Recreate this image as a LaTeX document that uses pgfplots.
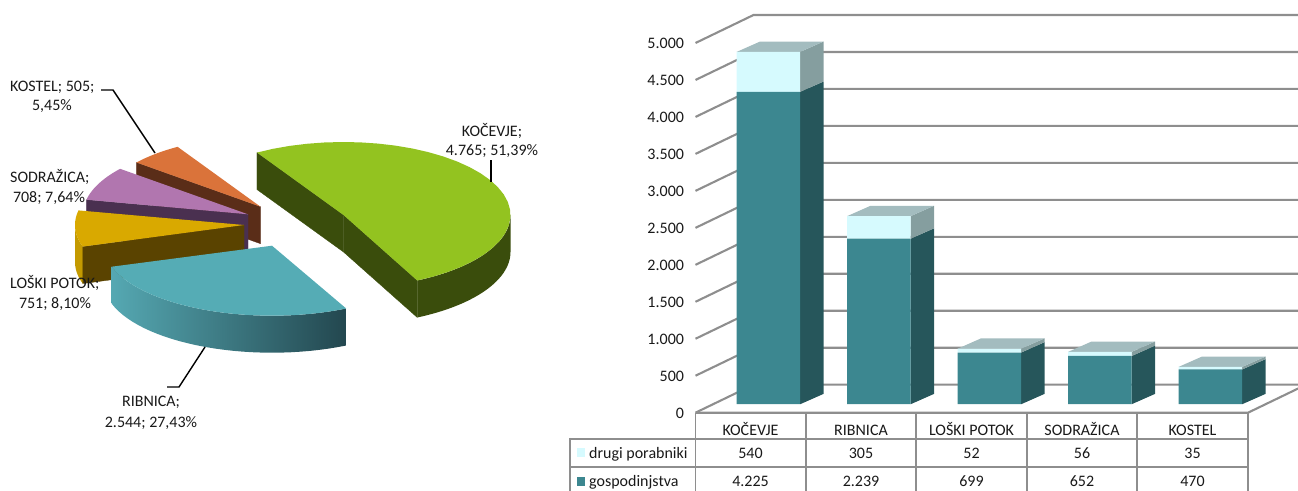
\documentclass[border=0pt]{standalone}
\usepackage{fontspec}
\setmainfont{Carlito}
\usepackage{pgfplots}
\usepackage{pgfplotstable}
\pgfplotsset{compat=1.18}
\definecolor{kotop}{HTML}{93C320}\definecolor{koside}{HTML}{3A4D0C}
\definecolor{ritop}{HTML}{55ACB5}\definecolor{rilft}{HTML}{55A8B2}\definecolor{rimid}{HTML}{3E7880}\definecolor{rirgt}{HTML}{23474F}
\definecolor{lotop}{HTML}{D9A900}\definecolor{loside}{HTML}{5A4300}\definecolor{lowall}{HTML}{C49A00}
\definecolor{sotop}{HTML}{B176AF}\definecolor{soside}{HTML}{4A3050}
\definecolor{kstop}{HTML}{DA733A}\definecolor{ksside}{HTML}{5A2D18}
\definecolor{gosp}{HTML}{3C8790}\definecolor{gospside}{HTML}{26565B}
\definecolor{drug}{HTML}{D6FAFE}\definecolor{drugside}{HTML}{859E9F}
\definecolor{bartop}{HTML}{A3BCBF}\definecolor{gridc}{HTML}{8E8E8E}
\pgfplotstableread{
x    gospodinjstva drugi
0.5  4225 540
1.5  2239 305
2.5  699  52
3.5  652  56
4.5  470  35
}\bardata
\newcommand\polyplot[2]{\edef\tmp{\noexpand\addplot[#1] coordinates {#2} --cycle;}\tmp}
\newcommand\arcadd[7]{\foreach \k in {0,...,30}{%
  \pgfmathparse{#5+(#6-#5)*\k/30}\let\tt\pgfmathresult
  \pgfmathparse{#1+#3*cos(\tt)}\let\X\pgfmathresult
  \pgfmathparse{#2-#4*sin(\tt)+#7}\let\Y\pgfmathresult
  \xdef\pts{\pts (\X,\Y)}}}
\newcommand\slicetop[7]{\gdef\pts{(#1,#2)}\arcadd{#1}{#2}{#3}{#4}{#5}{#6}{0}\polyplot{fill=#7,draw=none}{\pts}}
\newcommand\slicewall[7]{\gdef\pts{}\arcadd{#1}{#2}{#3}{#4}{#5}{#6}{0}\arcadd{#1}{#2}{#3}{#4}{#6}{#5}{37}\polyplot{#7}{\pts}}
\newcommand\sliceradial[6]{\pgfmathsetmacro\Xr{#1+#3*cos(#5)}\pgfmathsetmacro\Yr{#2-#4*sin(#5)}\pgfmathsetmacro\Yb{\Yr+37}\pgfmathsetmacro\Yc{#2+37}%
  \polyplot{fill=#6,draw=#6,line width=0.3pt}{(#1,#2) (\Xr,\Yr) (\Xr,\Yb) (#1,\Yc)}}
% 3D bar helpers, in axis units: 110.5 px per category, 0.07394 px per unit
\pgfmathsetmacro\dxu{23.3/110.5}\pgfmathsetmacro\dyu{10.3/0.07394}
\pgfmathsetmacro\wu{63.5/110.5}\pgfmathsetmacro\su{17.7/110.5}\pgfmathsetmacro\base{8.5/0.07394}
\newcommand\barside[4]{\pgfmathsetmacro\xa{#1+0.5+\su+\wu/2}\pgfmathsetmacro\xb{\xa+\dxu}%
  \pgfmathsetmacro\yl{#2+\base}\pgfmathsetmacro\yh{#3+\base}\pgfmathsetmacro\ylb{\yl+\dyu}\pgfmathsetmacro\yhb{\yh+\dyu}%
  \polyplot{fill=#4,draw=none}{(\xa,\yl) (\xb,\ylb) (\xb,\yhb) (\xa,\yh)}}
\newcommand\bartopf[2]{\pgfmathsetmacro\xa{#1+0.5+\su-\wu/2}\pgfmathsetmacro\xb{#1+0.5+\su+\wu/2}\pgfmathsetmacro\xc{\xb+\dxu}\pgfmathsetmacro\xd{\xa+\dxu}%
  \pgfmathsetmacro\yh{#2+\base}\pgfmathsetmacro\yhb{\yh+\dyu}%
  \polyplot{fill=bartop,draw=none}{(\xa,\yh) (\xb,\yh) (\xc,\yhb) (\xd,\yhb)}}
\newcommand\gridl[1]{\pgfmathsetmacro\xa{58/110.5}\pgfmathsetmacro\yb{#1+28/0.07394}%
  \edef\tmp{\noexpand\addplot[gridc,line width=2.1pt] coordinates {(0,#1) (\xa,\yb) (5.6,\yb)};}\tmp}
\newcommand\fs{\fontsize{16}{19}\selectfont}
\begin{document}
\begin{tikzpicture}[x=1pt,y=1pt]
\path[use as bounding box] (0,0) rectangle (1298,490);
\clip (0,0) rectangle (1298,490);
% ---- pie
\pgfmathsetmacro\tA{121.2}
\pgfmathsetmacro\tB{\tA-360*(4765/9273)}
\pgfmathsetmacro\tC{\tB-360*(2544/9273)}
\pgfmathsetmacro\tD{\tC-360*(751/9273)}
\pgfmathsetmacro\tE{\tD-360*(708/9273)}
\pgfmathsetmacro\tF{\tE-360*(505/9273)}
\begin{axis}[at={(0pt,0pt)},anchor=south west,scale only axis,width=560pt,height=490pt,
  xmin=0,xmax=560,ymin=0,ymax=490,y dir=reverse,hide axis,clip=false]
 % Kostel
 \sliceradial{260.5}{206.7}{160}{70}{\tE}{ksside}
 \slicetop{260.5}{206.7}{160}{70}{\tE}{\tF}{kstop}
 % Sodrazica
 \sliceradial{248}{214.3}{165}{72}{\tD}{soside}
 \slicetop{248}{214.3}{165}{72}{\tD}{\tE}{sotop}
 % Loski potok
 \slicewall{244}{225}{169}{72}{\tC}{-180}{fill=lowall,draw=none}
 \sliceradial{244}{225}{169}{72}{\tC}{loside}
 \slicetop{244}{225}{169}{72}{\tC}{\tD}{lotop}
 % Ribnica
 \slicewall{272}{245.7}{168}{70}{\tB}{\tC}{left color=rilft,middle color=rimid,right color=rirgt,draw=none}
 \slicetop{272}{245.7}{168}{70}{\tB}{\tC}{ritop}
 % Kocevje
 \sliceradial{343.5}{215}{167}{73}{\tA}{koside}
 \sliceradial{343.5}{215}{167}{73}{\tB}{koside}
 \slicewall{343.5}{215}{167}{73}{0}{\tB}{fill=koside,draw=none}
 \slicetop{343.5}{215}{167}{73}{\tA}{\tB}{kotop}
 % leader lines
 \addplot[black,line width=1.4pt] coordinates {(491,160) (491,182)};
 \addplot[black,line width=1.4pt] coordinates {(101,90) (113,90) (155,153)};
 \addplot[black,line width=1.4pt] coordinates {(167,387) (179,387) (205,347)};
\end{axis}
% ---- bars: walls, grid, sides, tops
\begin{axis}[at={(695.5pt,77.3pt)},anchor=south west,scale only axis,width=552.5pt,height=369.7pt,
  xmin=0,xmax=5,ymin=0,ymax=5000,clip=false,
  axis line style={draw=none},tick style={draw=none},xtick=\empty,
  ytick={0,500,1000,1500,2000,2500,3000,3500,4000,4500,5000},
  scaled y ticks=false,
  yticklabel style={/pgf/number format/.cd,1000 sep={.},assume math mode=true,/tikz/.cd,font=\fs,text=black!90,xshift=-8pt,yshift=-0.8pt}]
 \gridl{0}\gridl{500}\gridl{1000}\gridl{1500}\gridl{2000}\gridl{2500}\gridl{3000}\gridl{3500}\gridl{4000}\gridl{4500}\gridl{5000}
 \pgfmathsetmacro\xx{5+58/110.5}\pgfmathsetmacro\yy{28/0.07394}
 \edef\tmp{\noexpand\addplot[gridc,line width=2.1pt] coordinates {(0,0) (5,0) (\xx,\yy)};}\tmp
 \barside{0}{0}{4225}{gospside}\barside{0}{4225}{4765}{drugside}\bartopf{0}{4765}
 \barside{1}{0}{2239}{gospside}\barside{1}{2239}{2544}{drugside}\bartopf{1}{2544}
 \barside{2}{0}{699}{gospside}\barside{2}{699}{751}{drugside}\bartopf{2}{751}
 \barside{3}{0}{652}{gospside}\barside{3}{652}{708}{drugside}\bartopf{3}{708}
 \barside{4}{0}{470}{gospside}\barside{4}{470}{505}{drugside}\bartopf{4}{505}
\end{axis}
% ---- bars: front faces
\begin{axis}[at={(695.5pt,77.3pt)},anchor=south west,scale only axis,width=552.5pt,height=369.7pt,
  xmin=0,xmax=5,ymin=0,ymax=5000,clip=false,hide axis,ybar stacked,bar width=63.5pt]
 \addplot[fill=gosp,draw=none,xshift=17.7pt,yshift=8.5pt] table[x=x,y=gospodinjstva] {\bardata};
 \addplot[fill=drug,draw=none,xshift=17.7pt,yshift=8.5pt] table[x=x,y=drugi] {\bardata};
\end{axis}
% ---- data table
\foreach \xv in {695.5,805.6,916,1027,1137,1248}{\draw[gridc,line width=1.8pt] (\xv,77.3) -- (\xv,-5);}
\draw[gridc,line width=1.8pt] (570,52.2) -- (570,-5);
\draw[gridc,line width=1.8pt] (569,51.3) -- (1248,51.3);
\draw[gridc,line width=1.8pt] (570,23.3) -- (1248,23.3);
\fill[drug] (577,42) rectangle (585,33);
\fill[gosp] (577,13) rectangle (585,4);
\tikzset{lab/.style={inner sep=0pt,font=\fs,text=black!90,align=center,anchor=center,text height=11pt,text depth=3pt}}
\node[lab,anchor=west] at (589,35.2) {drugi porabniki};
\node[lab,anchor=west] at (589,8) {gospodinjstva};
\node[lab] at (750.5,58.5) {KOČEVJE};
\node[lab] at (861,58.5) {RIBNICA};
\node[lab] at (971.5,58.5) {LOŠKI POTOK};
\node[lab] at (1082,58.5) {SODRAŽICA};
\node[lab] at (1192.5,58.5) {KOSTEL};
\node[lab] at (750.5,35.2) {540};
\node[lab] at (861,35.2) {305};
\node[lab] at (971.5,35.2) {52};
\node[lab] at (1082,35.2) {56};
\node[lab] at (1192.5,35.2) {35};
\node[lab] at (750.5,8) {4.225};
\node[lab] at (861,8) {2.239};
\node[lab] at (971.5,8) {699};
\node[lab] at (1082,8) {652};
\node[lab] at (1192.5,8) {470};
% ---- pie labels
\node[lab] at (492,357) {KOČEVJE;};
\node[lab] at (492,338) {4.765; 51,39\%};
\node[lab,anchor=west] at (10,402.5) {KOSTEL; 505;};
\node[lab] at (52,383) {5,45\%};
\node[lab,anchor=west] at (10,311.5) {SODRAŽICA;};
\node[lab] at (49,291.5) {708; 7,64\%};
\node[lab,anchor=west] at (10,205) {LOŠKI POTOK;};
\node[lab] at (55,185.5) {751; 8,10\%};
\node[lab] at (151,87) {RIBNICA;};
\node[lab] at (151,66.5) {2.544; 27,43\%};
\end{tikzpicture}
\end{document}
